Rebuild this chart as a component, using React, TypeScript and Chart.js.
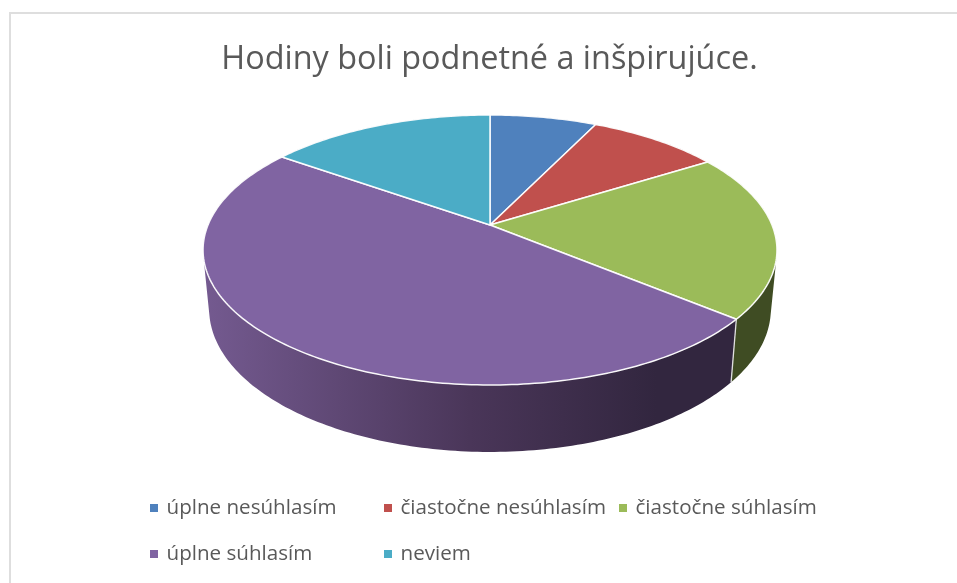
import React, { useEffect, useRef } from "react";
import { Chart, registerables } from "chart.js";

Chart.register(...registerables);

const categories = ["úplne nesúhlasím", "čiastočne nesúhlasím", "čiastočne súhlasím", "úplne súhlasím", "neviem"];
const shares = [7.2, 8.9, 19.9, 48.8, 15.2];
const colors = ["#4f81bd", "#c0504d", "#9bbb59", "#8064a2", "#4bacc6"];
const titleText = "Hodiny boli podnetné a inšpirujúce.";

const FONT = '"Open Sans", sans-serif';
const TEXT = "#595959";

// Perspective mapping of the pie plate (unit circle) onto the canvas.
const K = -0.185;
const project = (t: number, a: number, b: number, y0: number) => {
  const x = Math.cos(t);
  const y = Math.sin(t);
  const w = 1 + K * y;
  return [490 + (a * x) / w, y0 + (b * y) / w];
};
const topPt = (t: number) => project(t, 282, 130.4, 225);
const botPt = (t: number) => project(t, 276, 138, 282.6);

const arcPoints = (s: number, e: number, f: (t: number) => number[]) => {
  const n = Math.max(2, Math.ceil(Math.abs(e - s) * 60));
  const pts: number[][] = [];
  for (let i = 0; i <= n; i++) pts.push(f(s + ((e - s) * i) / n));
  return pts;
};

const pie3d = {
  id: "pie3d",
  beforeDatasetDraw(chart: any) {
    const { ctx } = chart;
    const arcs = chart.getDatasetMeta(0).data;
    ctx.save();
    ctx.lineJoin = "round";
    // side wall, as a ruled band between the top and bottom rims (one path, so no seams)
    arcs.forEach((arc: any, i: number) => {
      const top = arcPoints(arc.startAngle, arc.endAngle, topPt);
      const bot = arcPoints(arc.startAngle, arc.endAngle, botPt);
      let style: any = "#444444";
      if (i === 3) {
        const g = ctx.createLinearGradient(204, 0, 736, 0);
        g.addColorStop(0, "#745a90");
        g.addColorStop(0.5, "#4a3659");
        g.addColorStop(0.85, "#32263f");
        g.addColorStop(1, "#32263f");
        style = g;
      } else if (i === 2) {
        style = "#3f4c23";
      }
      ctx.fillStyle = style;
      ctx.beginPath();
      for (let j = 0; j < top.length - 1; j++) {
        const a0 = top[j];
        const a1 = top[j + 1];
        const b0 = bot[j];
        const b1 = bot[j + 1];
        const area =
          (a1[0] - a0[0]) * (b1[1] - a0[1]) - (a1[1] - a0[1]) * (b1[0] - a0[0]);
        // keep every quad wound the same way so the non-zero fill forms a union
        const quad = area >= 0 ? [a0, a1, b1, b0] : [b0, b1, a1, a0];
        ctx.moveTo(quad[0][0], quad[0][1]);
        ctx.lineTo(quad[1][0], quad[1][1]);
        ctx.lineTo(quad[2][0], quad[2][1]);
        ctx.lineTo(quad[3][0], quad[3][1]);
        ctx.closePath();
      }
      ctx.fill();
    });
    // edge between purple and green walls
    const seam = arcs[2].endAngle;
    const a = topPt(seam);
    const b = botPt(seam);
    ctx.strokeStyle = "#e0e0e0";
    ctx.lineWidth = 1.3;
    ctx.beginPath();
    ctx.moveTo(a[0], a[1]);
    ctx.lineTo(b[0], b[1]);
    ctx.stroke();
    // top faces
    arcs.forEach((arc: any, i: number) => {
      const pts = arcPoints(arc.startAngle, arc.endAngle, topPt);
      ctx.beginPath();
      ctx.moveTo(490, 225);
      pts.forEach((p) => ctx.lineTo(p[0], p[1]));
      ctx.closePath();
      ctx.fillStyle = colors[i];
      ctx.fill();
      ctx.strokeStyle = "rgba(255,255,255,0.95)";
      ctx.lineWidth = 1.5;
      ctx.stroke();
    });
    ctx.restore();
    return false;
  },
};

// Legend laid out in the reference's two-row column grid.
const legendGrid = {
  id: "legendGrid",
  afterDraw(chart: any) {
    const { ctx } = chart;
    const cols = [150, 384, 619];
    const rows = [508, 554];
    ctx.save();
    ctx.font = `20.6px ${FONT}`;
    ctx.textBaseline = "middle";
    ctx.textAlign = "left";
    categories.forEach((label, i) => {
      const x = cols[i % 3];
      const y = rows[Math.floor(i / 3)];
      ctx.fillStyle = colors[i];
      ctx.fillRect(x, y - 4, 8, 8);
      ctx.fillStyle = TEXT;
      ctx.fillText(label, x + 16.5, y);
    });
    ctx.restore();
  },
};

export default function App() {
  const ref = useRef<HTMLCanvasElement>(null);
  useEffect(() => {
    const chart = new Chart(ref.current as HTMLCanvasElement, {
      type: "pie",
      data: { labels: categories, datasets: [{ data: shares, backgroundColor: colors }] },
      options: {
        responsive: false,
        animation: false,
        layout: { padding: { top: 40, left: 22 } },
        plugins: {
          legend: { display: false },
          tooltip: { enabled: false },
          title: {
            display: true,
            text: titleText,
            color: TEXT,
            font: { family: FONT, size: 32.4, weight: "normal" },
            padding: 0,
          },
        },
      },
      plugins: [pie3d, legendGrid],
    } as any);
    return () => chart.destroy();
  }, []);
  return (
    <div style={{ position: "fixed", inset: 0, background: "#fff", overflow: "hidden" }}>
      <canvas ref={ref} width={957} height={583} style={{ display: "block" }} />
      <div
        style={{
          position: "absolute",
          left: 9,
          top: 12,
          width: 1000,
          height: 600,
          border: "2px solid #dedede",
          boxSizing: "border-box",
        }}
      />
    </div>
  );
}
